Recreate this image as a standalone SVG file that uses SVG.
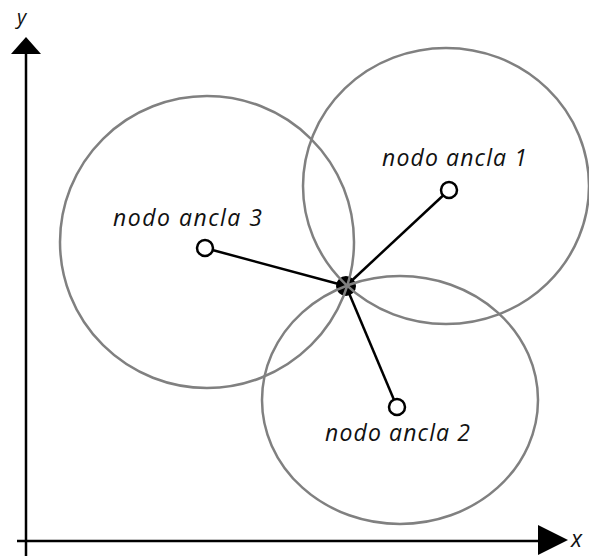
<svg xmlns="http://www.w3.org/2000/svg" width="589" height="556" viewBox="0 0 589 556">
<style>
.c{fill:none;stroke:#808080;stroke-width:2.5}
.l{stroke:#000;stroke-width:2.5}
.a{fill:#fff;stroke:#000;stroke-width:2.5}
.t{font-family:"Open Sans","Noto Sans",sans-serif;font-style:italic;font-size:23px;fill:#111}
</style>
<rect width="589" height="556" fill="#fff"/>
<g id="axes">
<line x1="26" y1="556" x2="26" y2="50" class="l"/>
<polygon points="26,37 41,54 11,54" fill="#000"/>
<line x1="17" y1="541" x2="545" y2="541" class="l"/>
<polygon points="568,540 538,525 538,555" fill="#000"/>
<text x="17" y="24" class="t" style="font-size:20px">y</text>
<text x="571" y="547" class="t">x</text>
</g>
<g id="connectors">
<line x1="346" y1="286" x2="449" y2="190" class="l"/>
<line x1="346" y1="286" x2="205" y2="248" class="l"/>
<line x1="346" y1="286" x2="397" y2="407" class="l"/>
</g>
<g id="center"><circle cx="346" cy="286" r="10" fill="#000"/></g>
<g id="circles">
<ellipse cx="446" cy="186" rx="143" ry="138" class="c"/>
<ellipse cx="207" cy="242" rx="147" ry="146" class="c"/>
<ellipse cx="400" cy="400" rx="138" ry="124" class="c"/>
</g>
<g id="anchor1"><circle cx="449" cy="190" r="8" class="a"/><text x="382" y="166" class="t" textLength="145" lengthAdjust="spacing">nodo ancla 1</text></g>
<g id="anchor3"><circle cx="205" cy="248" r="8" class="a"/><text x="113" y="226" class="t" textLength="149" lengthAdjust="spacing">nodo ancla 3</text></g>
<g id="anchor2"><circle cx="397" cy="407" r="8" class="a"/><text x="325" y="441" class="t" textLength="145" lengthAdjust="spacing">nodo ancla 2</text></g>
</svg>
